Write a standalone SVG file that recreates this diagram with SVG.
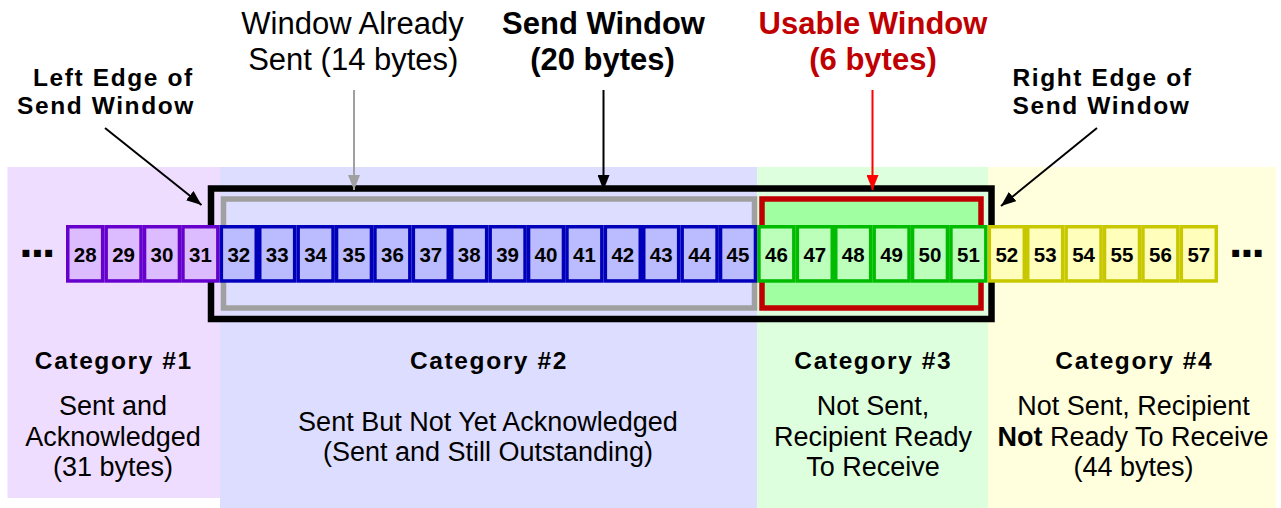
<svg xmlns="http://www.w3.org/2000/svg" width="1281" height="508" viewBox="0 0 1281 508">
<style>
text{font-family:"Liberation Sans",Arial,sans-serif;fill:#000}
.b{font-weight:bold}
.lbl{font-weight:bold;font-size:24.5px;letter-spacing:1.6px}
.top{font-size:31px;text-anchor:middle}
.topb{font-size:31px;font-weight:bold;text-anchor:middle}
.body{font-size:27px;text-anchor:middle}
.cat{font-weight:bold;font-size:24.5px;letter-spacing:1.6px;text-anchor:middle}
.num{font-size:20.5px;font-weight:bold;text-anchor:middle}
.dots{font-size:48px;font-weight:bold;letter-spacing:-2px}
.p rect{fill:#DDBBFF;stroke:#6600CC;stroke-width:3.5}
.u rect{fill:#BBBBFF;stroke:#0000BB;stroke-width:3.5}
.g rect{fill:#BBFFBB;stroke:#00BB00;stroke-width:3.5}
.y rect{fill:#FFFFBB;stroke:#C8C800;stroke-width:3.5}
.arr{fill:none;stroke-width:2}
</style>
<defs>
<marker id="ak" markerUnits="userSpaceOnUse" markerWidth="16" markerHeight="12" refX="15" refY="6" orient="auto"><path d="M0,0 L15,6 L0,12 z" fill="#000"/></marker>
<marker id="ag" markerUnits="userSpaceOnUse" markerWidth="16" markerHeight="12" refX="15" refY="6" orient="auto"><path d="M0,0 L15,6 L0,12 z" fill="#A0A0A0"/></marker>
<marker id="ar" markerUnits="userSpaceOnUse" markerWidth="16" markerHeight="12" refX="15" refY="6" orient="auto"><path d="M0,0 L15,6 L0,12 z" fill="#FF0000"/></marker>
</defs>
<g id="bands">
<rect x="7.5" y="167" width="212.5" height="331" fill="#EEDDFF"/>
<rect x="220" y="167" width="537" height="341" fill="#DDDDFF"/>
<rect x="757" y="167" width="231" height="341" fill="#DDFFDD"/>
<rect x="988" y="167" width="288" height="341" fill="#FFFFDD"/>
</g>
<g id="send-window">
<rect x="211" y="188.5" width="780.5" height="130.5" fill="none" stroke="#000" stroke-width="6.5"/>
</g>
<g id="already-sent-window">
<rect x="223.5" y="199" width="531" height="109" fill="none" stroke="#A0A0A0" stroke-width="5.5"/>
</g>
<g id="usable-window">
<rect x="762" y="199" width="219" height="109" fill="#A0FFA0" stroke="#C00000" stroke-width="5.5"/>
</g>
<g id="bytes-cat1" class="p">
<rect x="67.75" y="226.75" width="34.9" height="54.2"/>
<rect x="106.15" y="226.75" width="34.9" height="54.2"/>
<rect x="144.55" y="226.75" width="34.9" height="54.2"/>
<rect x="182.95" y="226.75" width="34.9" height="54.2"/>
</g>
<g id="bytes-cat2" class="u">
<rect x="221.35" y="226.75" width="34.9" height="54.2"/>
<rect x="259.75" y="226.75" width="34.9" height="54.2"/>
<rect x="298.15" y="226.75" width="34.9" height="54.2"/>
<rect x="336.55" y="226.75" width="34.9" height="54.2"/>
<rect x="374.95" y="226.75" width="34.9" height="54.2"/>
<rect x="413.35" y="226.75" width="34.9" height="54.2"/>
<rect x="451.75" y="226.75" width="34.9" height="54.2"/>
<rect x="490.15" y="226.75" width="34.9" height="54.2"/>
<rect x="528.55" y="226.75" width="34.9" height="54.2"/>
<rect x="566.95" y="226.75" width="34.9" height="54.2"/>
<rect x="605.35" y="226.75" width="34.9" height="54.2"/>
<rect x="643.75" y="226.75" width="34.9" height="54.2"/>
<rect x="682.15" y="226.75" width="34.9" height="54.2"/>
<rect x="720.55" y="226.75" width="34.9" height="54.2"/>
</g>
<g id="bytes-cat3" class="g">
<rect x="758.95" y="226.75" width="34.9" height="54.2"/>
<rect x="797.35" y="226.75" width="34.9" height="54.2"/>
<rect x="835.75" y="226.75" width="34.9" height="54.2"/>
<rect x="874.15" y="226.75" width="34.9" height="54.2"/>
<rect x="912.55" y="226.75" width="34.9" height="54.2"/>
<rect x="950.95" y="226.75" width="34.9" height="54.2"/>
</g>
<g id="bytes-cat4" class="y">
<rect x="989.35" y="226.75" width="34.9" height="54.2"/>
<rect x="1027.75" y="226.75" width="34.9" height="54.2"/>
<rect x="1066.15" y="226.75" width="34.9" height="54.2"/>
<rect x="1104.55" y="226.75" width="34.9" height="54.2"/>
<rect x="1142.95" y="226.75" width="34.9" height="54.2"/>
<rect x="1181.35" y="226.75" width="34.9" height="54.2"/>
</g>
<g id="byte-numbers">
<text class="num" x="85.2" y="262.3">28</text>
<text class="num" x="123.6" y="262.3">29</text>
<text class="num" x="162" y="262.3">30</text>
<text class="num" x="200.4" y="262.3">31</text>
<text class="num" x="238.8" y="262.3">32</text>
<text class="num" x="277.2" y="262.3">33</text>
<text class="num" x="315.6" y="262.3">34</text>
<text class="num" x="354" y="262.3">35</text>
<text class="num" x="392.4" y="262.3">36</text>
<text class="num" x="430.8" y="262.3">37</text>
<text class="num" x="469.2" y="262.3">38</text>
<text class="num" x="507.6" y="262.3">39</text>
<text class="num" x="546" y="262.3">40</text>
<text class="num" x="584.4" y="262.3">41</text>
<text class="num" x="622.8" y="262.3">42</text>
<text class="num" x="661.2" y="262.3">43</text>
<text class="num" x="699.6" y="262.3">44</text>
<text class="num" x="738" y="262.3">45</text>
<text class="num" x="776.4" y="262.3">46</text>
<text class="num" x="814.8" y="262.3">47</text>
<text class="num" x="853.2" y="262.3">48</text>
<text class="num" x="891.6" y="262.3">49</text>
<text class="num" x="930" y="262.3">50</text>
<text class="num" x="968.4" y="262.3">51</text>
<text class="num" x="1006.8" y="262.3">52</text>
<text class="num" x="1045.2" y="262.3">53</text>
<text class="num" x="1083.6" y="262.3">54</text>
<text class="num" x="1122" y="262.3">55</text>
<text class="num" x="1160.4" y="262.3">56</text>
<text class="num" x="1198.8" y="262.3">57</text>
</g>
<g id="ellipses">
<text class="dots" x="19.3" y="256.7">...</text>
<text class="dots" x="1228.9" y="256.7">...</text>
</g>
<g id="connectors">
<line class="arr" x1="105" y1="128" x2="201.5" y2="205" stroke="#000" marker-end="url(#ak)"/>
<line class="arr" x1="1097" y1="128" x2="1001" y2="206" stroke="#000" marker-end="url(#ak)"/>
<line class="arr" x1="354" y1="90" x2="354" y2="190" stroke="#A0A0A0" marker-end="url(#ag)"/>
<line class="arr" x1="603.5" y1="90" x2="603.5" y2="190" stroke="#000" marker-end="url(#ak)"/>
<line class="arr" x1="872.5" y1="90" x2="872.5" y2="190" stroke="#FF0000" stroke-width="1.5" marker-end="url(#ar)"/>
</g>
<g id="label-left-edge">
<text class="lbl" x="33" y="86">Left Edge of</text>
<text class="lbl" x="17" y="114">Send Window</text>
</g>
<g id="label-already-sent">
<text class="top" x="352.5" y="34">Window Already</text>
<text class="top" x="353.3" y="70">Sent (14 bytes)</text>
</g>
<g id="label-send-window">
<text class="topb" x="603.5" y="34">Send Window</text>
<text class="topb" x="602.5" y="70">(20 bytes)</text>
</g>
<g id="label-usable-window">
<text class="topb" x="873" y="34" style="fill:#C00000">Usable Window</text>
<text class="topb" x="873" y="70" style="fill:#C00000">(6 bytes)</text>
</g>
<g id="label-right-edge">
<text class="lbl" x="1012.5" y="86">Right Edge of</text>
<text class="lbl" x="1012.5" y="114">Send Window</text>
</g>
<g id="category-1">
<text class="cat" x="113.8" y="368.5">Category #1</text>
<text class="body" x="113" y="415">Sent and</text>
<text class="body" x="113" y="445.5">Acknowledged</text>
<text class="body" x="113" y="475.5">(31 bytes)</text>
</g>
<g id="category-2">
<text class="cat" x="489" y="368.5">Category #2</text>
<text class="body" x="488" y="430.5">Sent But Not Yet Acknowledged</text>
<text class="body" x="488" y="460.5">(Sent and Still Outstanding)</text>
</g>
<g id="category-3">
<text class="cat" x="873.3" y="368.5">Category #3</text>
<text class="body" x="873" y="415">Not Sent,</text>
<text class="body" x="873" y="445.5">Recipient Ready</text>
<text class="body" x="873" y="475.5">To Receive</text>
</g>
<g id="category-4">
<text class="cat" x="1134.3" y="368.5">Category #4</text>
<text class="body" x="1133.5" y="415">Not Sent, Recipient</text>
<text class="body" x="1133" y="445.5"><tspan class="b">Not</tspan> Ready To Receive</text>
<text class="body" x="1133.5" y="475.5">(44 bytes)</text>
</g>
</svg>
